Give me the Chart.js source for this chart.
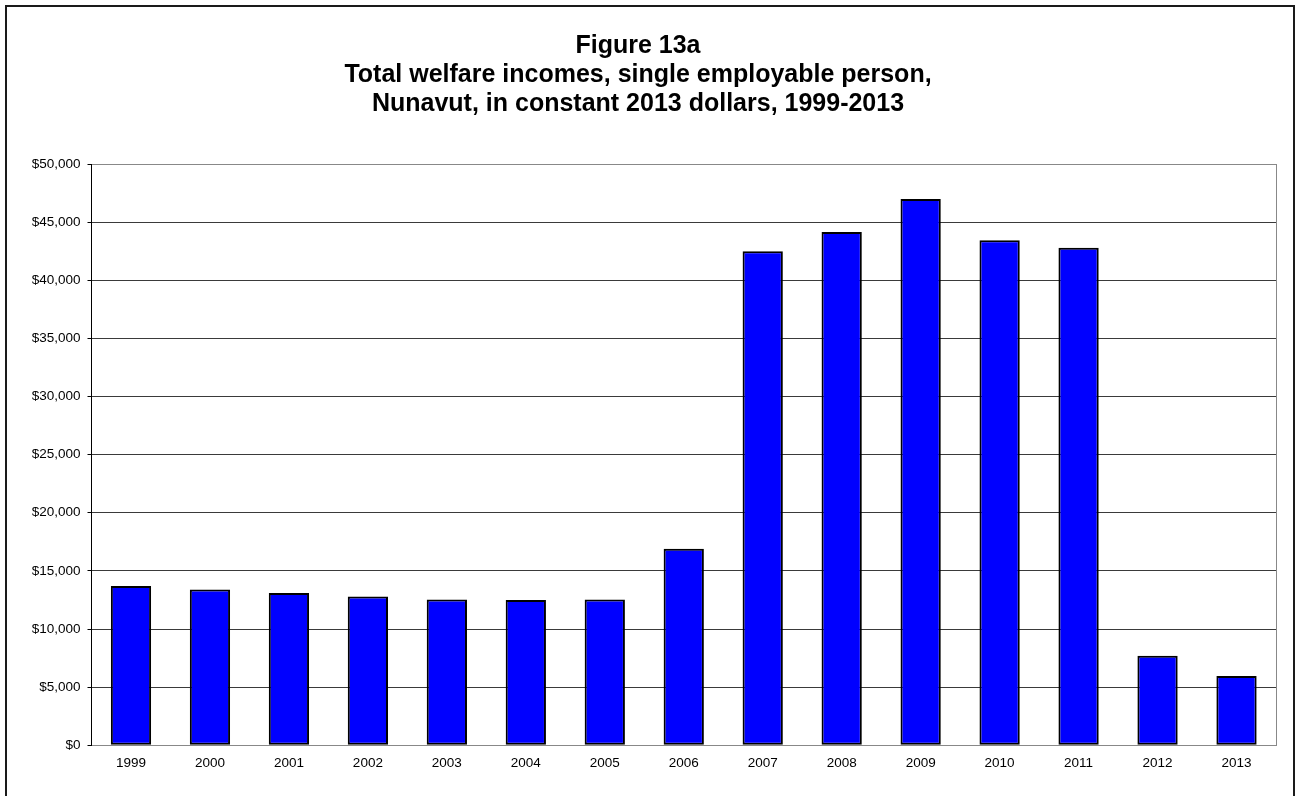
<!DOCTYPE html>
<html>
<head>
<meta charset="utf-8">
<script src="https://cdn.jsdelivr.net/npm/chart.js@4/dist/chart.umd.min.js"></script>
<style>
  html, body { margin: 0; padding: 0; background: #fff; overflow: hidden; }
  #wrap { position: relative; width: 1297px; height: 796px; }
  #c { position: absolute; left: 0; top: 0; }
  #frame { position: absolute; left: 5px; top: 5px; width: 1286px; height: 1000px; border: 2px solid #1a1a1a; pointer-events: none; }
</style>
</head>
<body>
<div id="wrap">
  <canvas id="c" width="1280" height="796"></canvas>
  <div id="frame"></div>
</div>
<script>
const titleLines = [
  'Figure 13a',
  'Total welfare incomes, single employable person,',
  'Nunavut, in constant 2013 dollars, 1999-2013'
];
const years = ['1999','2000','2001','2002','2003','2004','2005','2006','2007','2008','2009','2010','2011','2012','2013'];
const welfareIncomes = [13700, 13400, 13100, 12800, 12550, 12500, 12550, 16900, 42500, 44150, 47000, 43450, 42800, 7700, 5970];
const yMin = 0, yMax = 50000, yStep = 5000;
const currencyPrefix = '$';

const FONT = "'Liberation Sans', Arial, sans-serif";

new Chart(document.getElementById('c'), {
  type: 'bar',
  data: {
    labels: years,
    datasets: [{
      data: welfareIncomes,
      backgroundColor: '#0000ff',
      borderColor: '#000000',
      borderWidth: 2,
      borderSkipped: false,
      barPercentage: 1.0,
      categoryPercentage: 0.51
    }]
  },
  options: {
    responsive: false,
    animation: false,
    layout: { padding: { left: 0, right: 4, top: 0, bottom: 0 } },
    plugins: {
      legend: { display: false },
      tooltip: { enabled: false },
      title: {
        display: true,
        text: titleLines,
        color: '#000',
        font: { family: FONT, size: 25, weight: 'bold', lineHeight: '29px' },
        padding: { top: 32, bottom: 45 }
      }
    },
    scales: {
      x: {
        grid: { display: false, drawTicks: false },
        border: { display: true, color: '#888', width: 1 },
        ticks: { color: '#000', font: { family: FONT, size: 13.5 }, padding: 10, maxRotation: 0 },
        afterFit: (s) => { s.height = 50.7; }
      },
      y: {
        min: yMin, max: yMax,
        ticks: {
          stepSize: yStep,
          color: '#000',
          font: { family: FONT, size: 13.5 },
          padding: 7,
          callback: (v) => currencyPrefix + Number(v).toLocaleString('en-US')
        },
        grid: {
          color: (ctx) => (ctx.tick && (ctx.tick.value === yMax || ctx.tick.value === yMin)) ? '#888' : '#3a3a3a',
          lineWidth: 1,
          tickLength: 4,
          tickColor: '#000'
        },
        border: { display: true, color: '#000', width: 1 },
        afterFit: (s) => { s.width = 91.5; }
      },
      yr: {
        position: 'right',
        min: yMin, max: yMax,
        ticks: { display: false },
        grid: { drawOnChartArea: false, drawTicks: false },
        border: { display: true, color: '#888', width: 1 },
        afterFit: (s) => { s.width = 0; }
      }
    }
  }
});
</script>
</body>
</html>
